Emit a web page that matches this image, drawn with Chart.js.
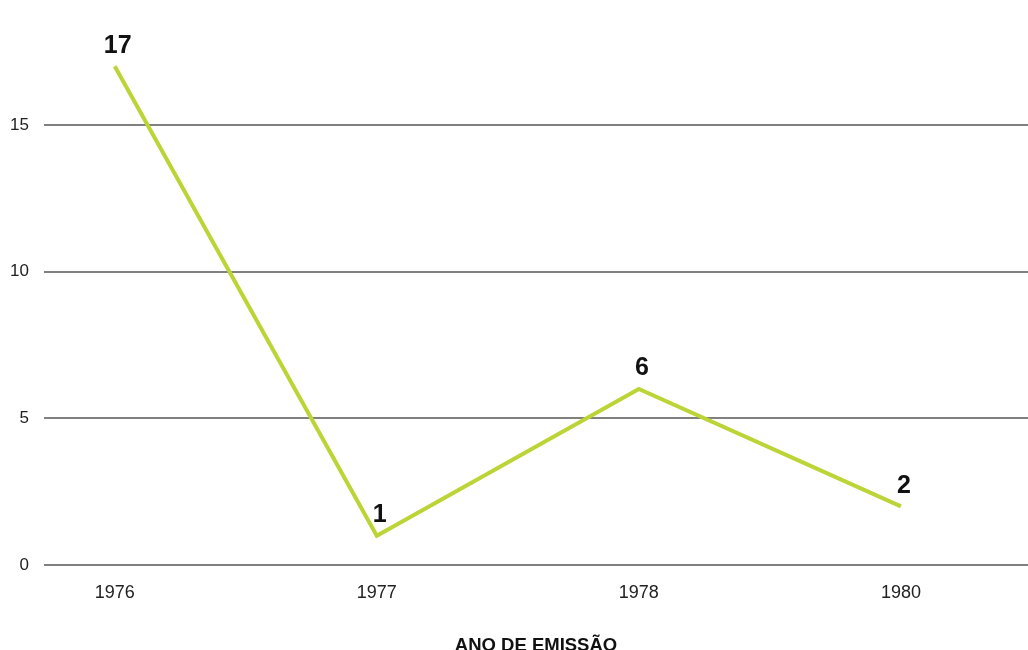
<!DOCTYPE html>
<html>
<head>
<meta charset="utf-8">
<script src="https://cdn.jsdelivr.net/npm/chart.js@4/dist/chart.umd.min.js"></script>
<style>
  html, body { margin: 0; padding: 0; background: #fff; overflow: hidden; }
  #wrap { position: relative; width: 1028px; height: 660px; }
</style>
</head>
<body>
<div id="wrap"><canvas id="myChart"></canvas></div>
<script>
"use strict";
var years = ["1976", "1977", "1978", "1980"];
var emissions = [17, 1, 6, 2];
var yTicks = [0, 5, 10, 15];
var axisTitle = "ANO DE EMISSÃO";

(function () {
    var points = emissions.map(function (v, i) {
        return { x: i, y: v };
    });

    // draws the number above each point of the line
    var valueLabels = {
        id: "valueLabels",
        afterDatasetsDraw: function (chart) {
            var ctx = chart.ctx;
            var meta = chart.getDatasetMeta(0);
            ctx.save();
            ctx.font = "bold 25px 'Liberation Sans', Arial, sans-serif";
            ctx.fillStyle = "#111";
            ctx.textAlign = "center";
            ctx.textBaseline = "bottom";
            meta.data.forEach(function (pt, i) {
                ctx.fillText(String(emissions[i]), pt.x + 3, pt.y - 8);
            });
            ctx.restore();
        }
    };

    var ctx = document.getElementById("myChart").getContext("2d");
    new Chart(ctx, {
        type: "line",
        data: {
            datasets: [{
                data: points,
                borderColor: "#bdd437",
                borderWidth: 4,
                pointRadius: 0,
                tension: 0,
                fill: false
            }]
        },
        options: {
            responsive: true,
            maintainAspectRatio: false,
            animation: false,
            layout: { autoPadding: false, padding: { top: 6, left: 0, right: 0, bottom: 0 } },
            plugins: {
                legend: { display: false },
                tooltip: { enabled: false }
            },
            scales: {
                x: {
                    type: "linear",
                    min: -0.27,
                    max: 3.485,
                    afterBuildTicks: function (scale) {
                        scale.ticks = years.map(function (y, i) { return { value: i }; });
                    },
                    afterFit: function (scale) { scale.height = 95; },
                    grid: { display: false, drawTicks: false },
                    border: { display: false },
                    ticks: {
                        padding: 17,
                        color: "#222",
                        font: { family: "'Liberation Sans', Arial, sans-serif", size: 18 },
                        callback: function (value) { return years[value]; }
                    },
                    title: {
                        display: true,
                        text: axisTitle,
                        color: "#111",
                        font: { family: "'Liberation Sans', Arial, sans-serif", size: 18.5, weight: "bold" },
                        padding: { top: 32, bottom: 3 }
                    }
                },
                y: {
                    min: 0,
                    max: 18.4,
                    afterBuildTicks: function (scale) {
                        scale.ticks = yTicks.map(function (v) { return { value: v }; });
                    },
                    afterFit: function (scale) { scale.width = 44; },
                    grid: { color: "#808080", lineWidth: 2, drawTicks: false },
                    border: { display: false },
                    ticks: {
                        padding: 15,
                        color: "#222",
                        font: { family: "'Liberation Sans', Arial, sans-serif", size: 17 }
                    }
                }
            }
        },
        plugins: [valueLabels]
    });
})();
</script>
</body>
</html>
